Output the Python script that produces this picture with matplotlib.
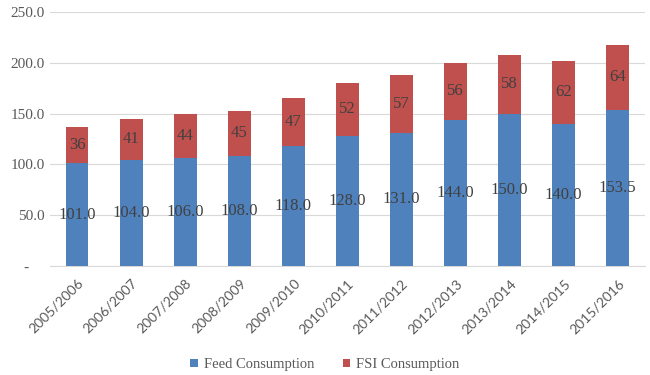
import matplotlib.pyplot as plt
import numpy as np

years = ['2005/2006', '2006/2007', '2007/2008', '2008/2009', '2009/2010', '2010/2011',
         '2011/2012', '2012/2013', '2013/2014', '2014/2015', '2015/2016']
feed = [101.0, 104.0, 106.0, 108.0, 118.0, 128.0, 131.0, 144.0, 150.0, 140.0, 153.5]
fsi = [36, 41, 44, 45, 47, 52, 57, 56, 58, 62, 64]

plt.rcParams['font.family'] = ['Liberation Serif', 'DejaVu Serif']

fig = plt.figure(figsize=(6.5, 3.75), dpi=100)
ax = fig.add_axes([0.077, 0.291, 0.915, 0.677])

x = np.arange(len(years))
blue = '#4F81BD'
red = '#C0504D'
ax.bar(x, feed, width=0.42, color=blue, label='Feed Consumption', zorder=3)
ax.bar(x, fsi, width=0.42, bottom=feed, color=red, label='FSI Consumption', zorder=3)

for i in range(len(x)):
    ax.text(x[i], feed[i] / 2, '%.1f' % feed[i], ha='center', va='center',
            fontsize=12, color='#404040', zorder=4)
    ax.text(x[i], feed[i] + fsi[i] / 2, str(fsi[i]), ha='center', va='center',
            fontsize=12, color='#404040', zorder=4)

ax.set_xlim(-0.5, len(years) - 0.5)
ax.set_ylim(0, 250)
ax.set_yticks([0, 50, 100, 150, 200, 250])
ax.set_yticklabels(['-    ', '50.0', '100.0', '150.0', '200.0', '250.0'])
ax.yaxis.grid(True, color='#D9D9D9', linewidth=0.8, zorder=0)
ax.set_xticks(x)
ax.tick_params(axis='both', length=0, labelsize=11, colors='#595959')
ax.set_xticklabels(years, rotation=45, ha='right', rotation_mode='anchor',
                   family=['Lato', 'DejaVu Sans'], fontsize=10)
ax.tick_params(axis='x', pad=8)
ax.tick_params(axis='y', pad=4)
for s in ['top', 'right', 'left']:
    ax.spines[s].set_visible(False)
ax.spines['bottom'].set_color('#D9D9D9')

fig.legend(loc='lower center', bbox_to_anchor=(0.5, -0.025), ncol=2, frameon=False,
           fontsize=10.5, handlelength=0.5, handleheight=0.5, handletextpad=0.4,
           columnspacing=2.0, labelcolor='#595959')

fig.savefig('out.png', dpi=100)
